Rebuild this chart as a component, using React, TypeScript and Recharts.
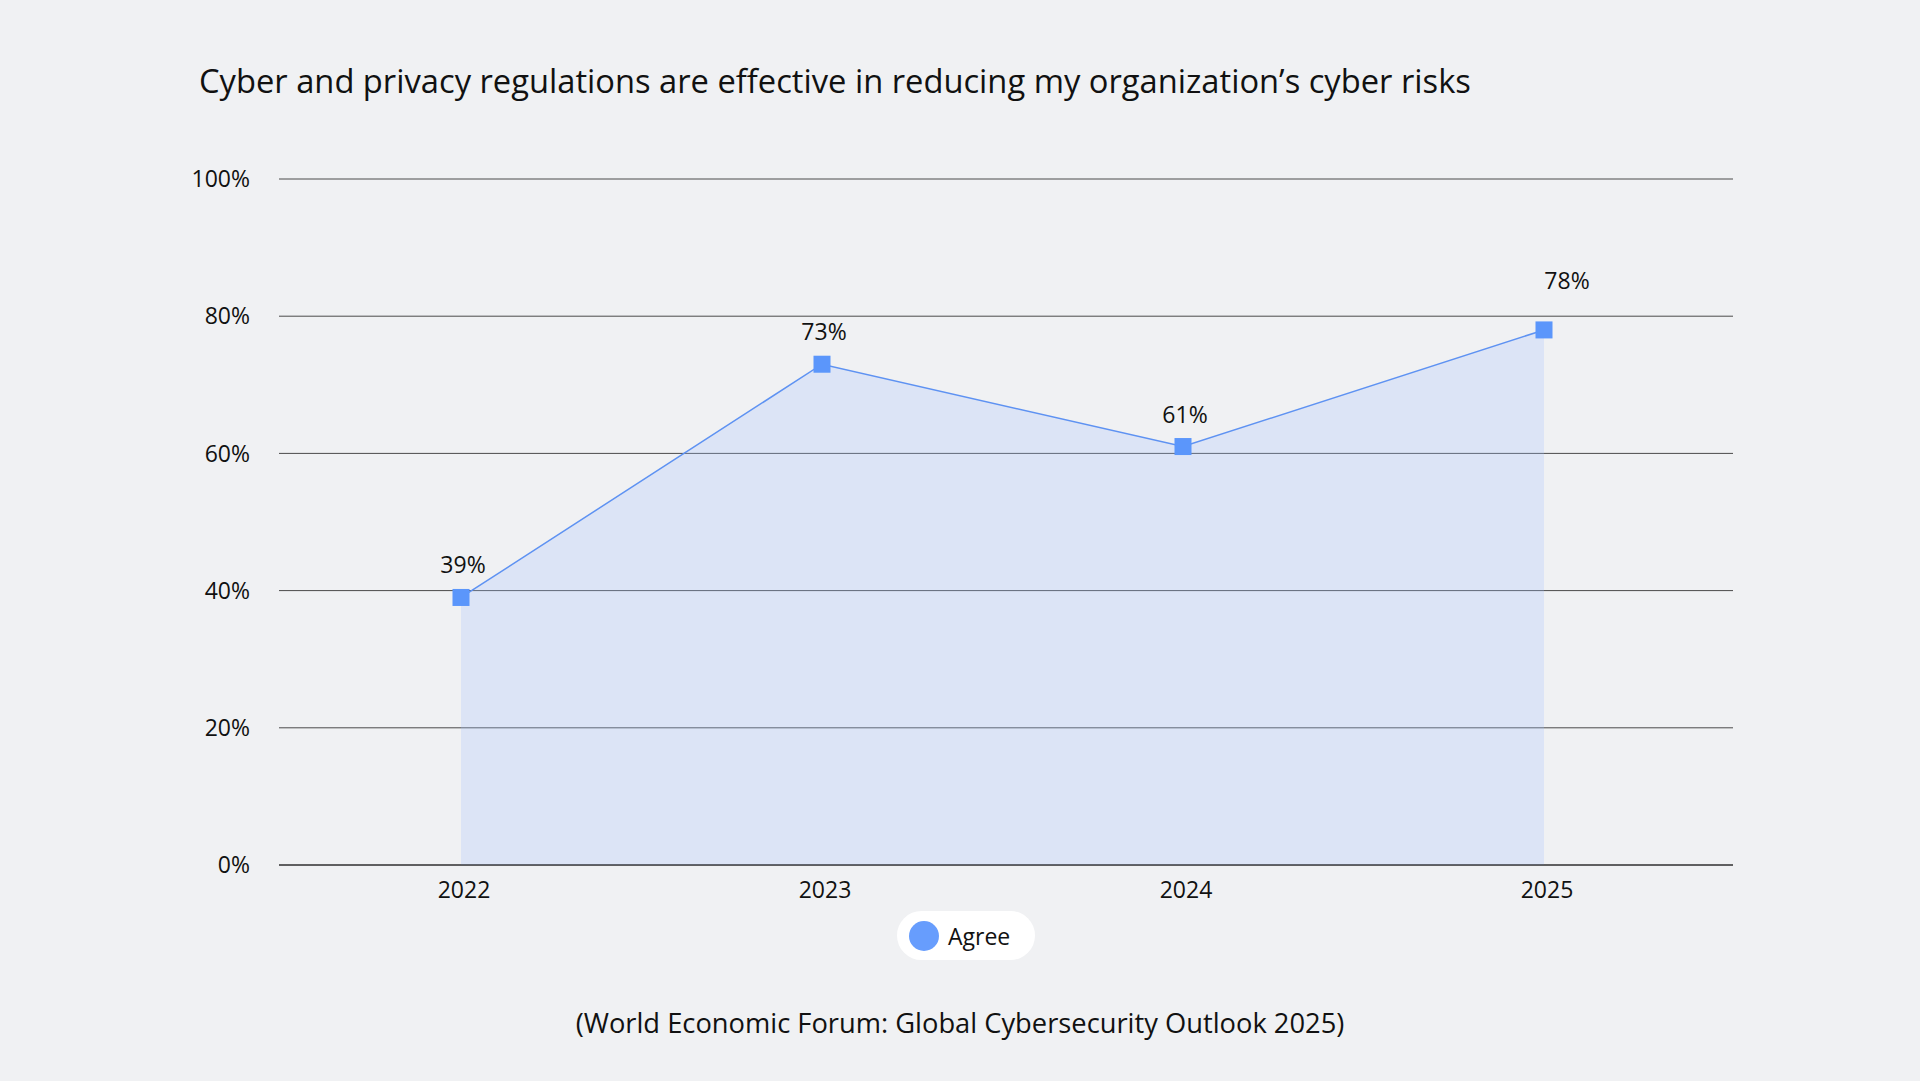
import React from 'react';
import { AreaChart, Area, XAxis, YAxis, CartesianGrid, LabelList } from 'recharts';

const years = ['2022', '2023', '2024', '2025'];
const agree = [39, 73, 61, 78];
const yTicks = [0, 20, 40, 60, 80, 100];
const seriesName = 'Agree';
const title = 'Cyber and privacy regulations are effective in reducing my organization\u2019s cyber risks';
const source = '(World Economic Forum: Global Cybersecurity Outlook 2025)';

const data = years.map((year, i) => ({ year, agree: agree[i] }));

const FONT = '"Open Sans", "Noto Sans", sans-serif';
const BG = '#F0F1F3';

const SquareDot = (props: any) => {
  const { cx, cy, index } = props;
  if (cx == null || cy == null) return null;
  return <rect key={`dot-${index}`} x={cx - 8.5} y={cy - 8.5} width={17} height={17} fill="#5B96FB" />;
};

// the last label sits higher and to the right, clear of the 80% line
const ValueLabel = (props: any) => {
  const { x, y, value, index } = props;
  const last = index === agree.length - 1;
  return (
    <text
      x={x + (last ? 23 : 2)}
      y={y - (last ? 50 : 33)}
      textAnchor="middle"
      dominantBaseline="central"
      fontSize={23}
      fill="#111"
      fontFamily={FONT}
    >
      {value}%
    </text>
  );
};

const LegendPill = () => (
  <div
    style={{
      position: 'absolute',
      left: 897,
      top: 911,
      background: '#fff',
      borderRadius: 25,
      height: 49,
      width: 138,
      display: 'flex',
      alignItems: 'center',
      boxSizing: 'border-box',
      paddingLeft: 12,
      fontFamily: FONT,
    }}
  >
    <span style={{ width: 30, height: 30, borderRadius: '50%', background: '#679DFD', display: 'inline-block' }} />
    <span style={{ fontSize: 23, color: '#111', marginLeft: 9 }}>{seriesName}</span>
  </div>
);

export default function App() {
  return (
    <div style={{ position: 'fixed', left: 0, top: 0, width: 1920, height: 1081, background: BG, overflow: 'hidden' }}>
      <div
        style={{
          position: 'absolute',
          left: 199,
          top: 60,
          fontFamily: FONT,
          fontSize: 32.7,
          lineHeight: 1.3,
          color: '#111',
          whiteSpace: 'nowrap',
        }}
      >
        {title}
      </div>

      <div style={{ position: 'absolute', left: 0, top: 0 }}>
        <AreaChart width={1920} height={1081} data={data} margin={{ top: 179, right: 187, bottom: 186, left: 0 }}>
          <CartesianGrid horizontal vertical={false} stroke="#4a4a4a" strokeWidth={1} />
          <XAxis
            dataKey="year"
            height={30}
            padding={{ left: 182, right: 189 }}
            axisLine={{ stroke: '#222', strokeWidth: 1 }}
            tickLine={false}
            tickSize={0}
            tickMargin={17}
            tick={{ fill: '#111', fontSize: 23, fontFamily: FONT, dx: 3 }}
          />
          <YAxis
            width={279}
            domain={[0, 100]}
            ticks={yTicks}
            tickFormatter={(v) => `${v}%`}
            axisLine={false}
            tickLine={false}
            tickSize={0}
            tickMargin={29}
            tick={{ fill: '#111', fontSize: 23, fontFamily: FONT }}
          />
          <Area
            type="linear"
            dataKey="agree"
            name={seriesName}
            stroke="#5E92F2"
            strokeWidth={1.5}
            fill="#A0C1FF"
            fillOpacity={0.25}
            dot={<SquareDot />}
            activeDot={false}
            isAnimationActive={false}
          >
            <LabelList dataKey="agree" content={<ValueLabel />} />
          </Area>
        </AreaChart>
      </div>

      <LegendPill />

      <div
        style={{
          position: 'absolute',
          left: 0,
          top: 1005,
          width: 1920,
          textAlign: 'center',
          fontFamily: FONT,
          fontSize: 27.3,
          lineHeight: 1.3,
          color: '#111',
        }}
      >
        {source}
      </div>
    </div>
  );
}
